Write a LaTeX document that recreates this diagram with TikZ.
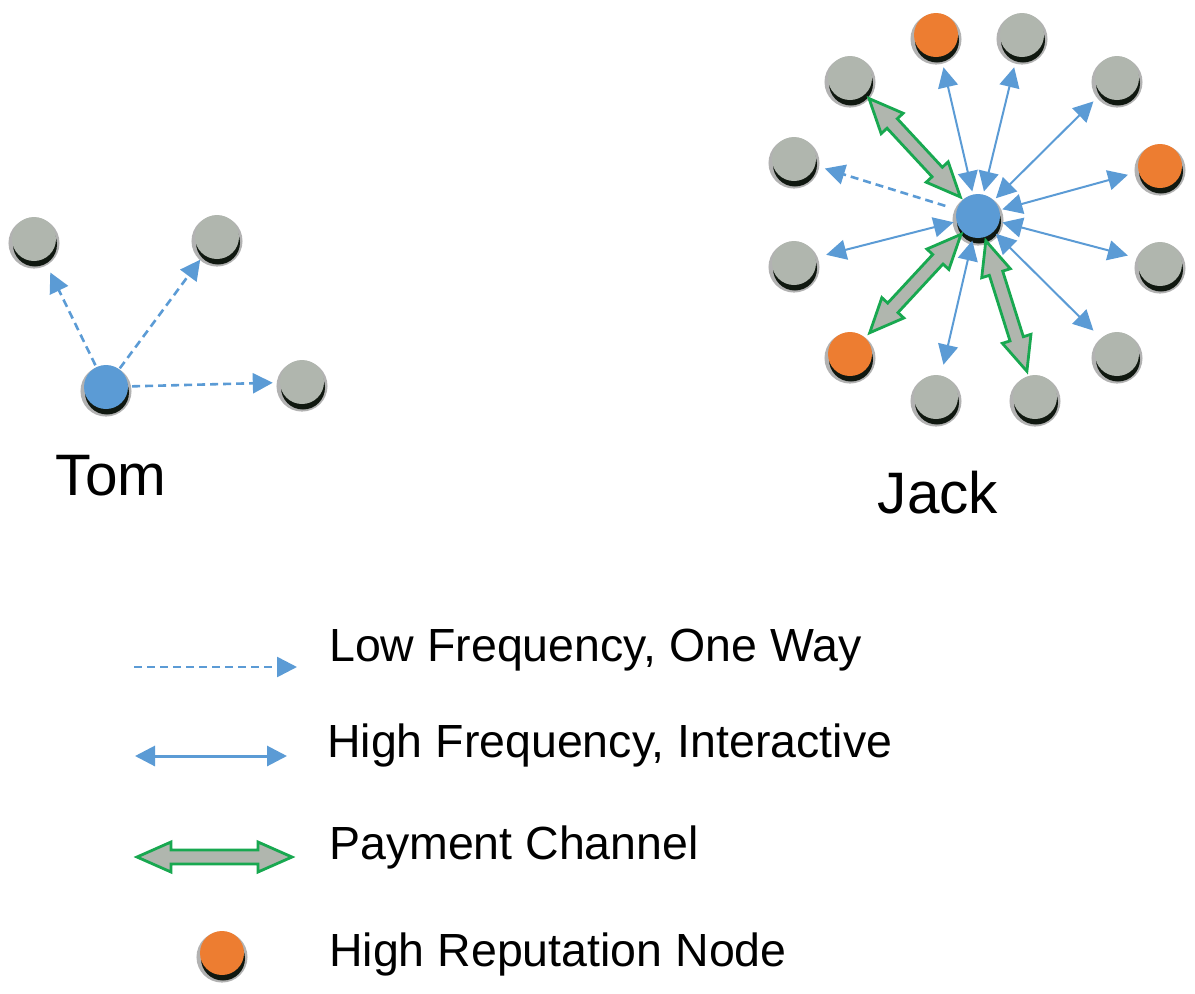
\documentclass[tikz,border=0pt]{standalone}
\usepackage{fontspec}
\setmainfont{Liberation Sans}
\usetikzlibrary{arrows.meta,calc,shadows}
\definecolor{nodegray}{RGB}{176,182,174}
\definecolor{nodeblue}{RGB}{91,155,213}
\definecolor{nodeorange}{RGB}{237,125,49}
\definecolor{paygreen}{RGB}{24,168,80}
\definecolor{arrowblue}{RGB}{91,155,213}
\definecolor{shadowdark}{RGB}{16,24,16}
\tikzset{
  peer/.style={circle, minimum size=44pt, inner sep=0pt, fill=#1,
    general shadow={fill=black!30, shadow scale=1.16, shadow yshift=-3.5pt},
    general shadow={fill=shadowdark, shadow xshift=1pt, shadow yshift=-5.5pt}},
  gnode/.style={peer=nodegray},
  bnode/.style={peer=nodeblue},
  onode/.style={peer=nodeorange},
  lowfreq/.style={draw=arrowblue, line width=2.6pt, dash pattern=on 8pt off 5pt,
    -{Triangle[length=20pt,width=20pt]}},
  highfreq/.style={draw=arrowblue, line width=2pt,
    {Triangle[length=20pt,width=20pt]}-{Triangle[length=20pt,width=20pt]}},
  paystyle/.style={draw=paygreen, line width=2.8pt, fill=nodegray, line join=miter},
  bigtext/.style={font=\fontsize{58.5}{62}\selectfont, inner sep=0pt},
  legtext/.style={font=\fontsize{46.5}{50}\selectfont, inner sep=0pt, anchor=base west},
}
% payment channel double arrow: #1 id, #2 from, #3 to, #4 gap at from, #5 gap at to
\newcommand{\paych}[5]{%
  \coordinate (#1-s) at ($(#2)!#4!(#3)$);
  \coordinate (#1-e) at ($(#3)!#5!(#2)$);
  \coordinate (#1-h1) at ($(#1-s)!34pt!(#1-e)$);
  \coordinate (#1-h2) at ($(#1-e)!34pt!(#1-s)$);
  \draw[paystyle] (#1-s)
    -- ($(#1-h1)!15pt!90:(#1-e)$) -- ($(#1-h1)!7pt!90:(#1-e)$)
    -- ($(#1-h2)!7pt!-90:(#1-s)$) -- ($(#1-h2)!15pt!-90:(#1-s)$)
    -- (#1-e)
    -- ($(#1-h2)!15pt!90:(#1-s)$) -- ($(#1-h2)!7pt!90:(#1-s)$)
    -- ($(#1-h1)!7pt!-90:(#1-e)$) -- ($(#1-h1)!15pt!-90:(#1-e)$)
    -- cycle;
}
\begin{document}
\begin{tikzpicture}[x=1pt,y=-1pt]
\useasboundingbox (0,0) rectangle (1195,994);

% ---- Tom ----
\node[bnode] (tom) at (106,387) {};
\node[gnode] (t1) at (34,239) {};
\node[gnode] (t2) at (217,237) {};
\node[gnode] (t3) at (302,382) {};
\draw[lowfreq, shorten <=2pt, shorten >=15pt] (tom) -- (t1);
\draw[lowfreq, shorten <=1pt, shorten >=6pt] (tom) -- (t2);
\draw[lowfreq, shorten <=4pt, shorten >=7pt] (tom) -- (t3);
\node[bigtext, anchor=base] (tomlabel) at (111,495) {Tom};

% ---- Jack ----
\node[bnode] (jack) at (978,216) {};
\node[onode] (j1) at (936,35) {};
\node[gnode] (j2) at (1022,35) {};
\node[gnode] (j3) at (850,78) {};
\node[gnode] (j4) at (1117,78) {};
\node[gnode] (j5) at (794,159) {};
\node[onode] (j6) at (1160,166) {};
\node[gnode] (j7) at (794,263) {};
\node[gnode] (j8) at (1160,264) {};
\node[onode] (j9) at (850,354) {};
\node[gnode] (j10) at (1117,354) {};
\node[gnode] (j11) at (936,397) {};
\node[gnode] (j12) at (1035,397) {};

\foreach \n in {j1,j2,j4,j6,j7,j8,j10,j11}
  \draw[highfreq, shorten <=3pt, shorten >=11pt] (jack) -- (\n);
\draw[lowfreq, shorten <=12pt, shorten >=10pt] (jack) -- (j5);
\paych{pa}{jack}{j3}{26pt}{28pt}
\paych{pb}{jack}{j9}{25pt}{29pt}
\paych{pc}{jack}{j12}{26pt}{27pt}
\node[bigtext, anchor=base] (jacklabel) at (938,513) {Jack};

% ---- Legend ----
\coordinate (l1a) at (134,667);
\coordinate (l1b) at (297,667);
\draw[lowfreq] (l1a) -- (l1b);
\node[legtext] (l1t) at (329,661) {Low Frequency, One Way};

\coordinate (l2a) at (135,756);
\coordinate (l2b) at (287,756);
\draw[highfreq, line width=3pt] (l2a) -- (l2b);
\node[legtext] (l2t) at (327,757) {High Frequency, Interactive};

\coordinate (l3a) at (137,857);
\coordinate (l3b) at (292,857);
\paych{pl}{l3a}{l3b}{0pt}{0pt}
\node[legtext] (l3t) at (329,859) {Payment Channel};

\node[onode] (l4) at (222,953) {};
\node[legtext] (l4t) at (329,966) {High Reputation Node};
\end{tikzpicture}
\end{document}
